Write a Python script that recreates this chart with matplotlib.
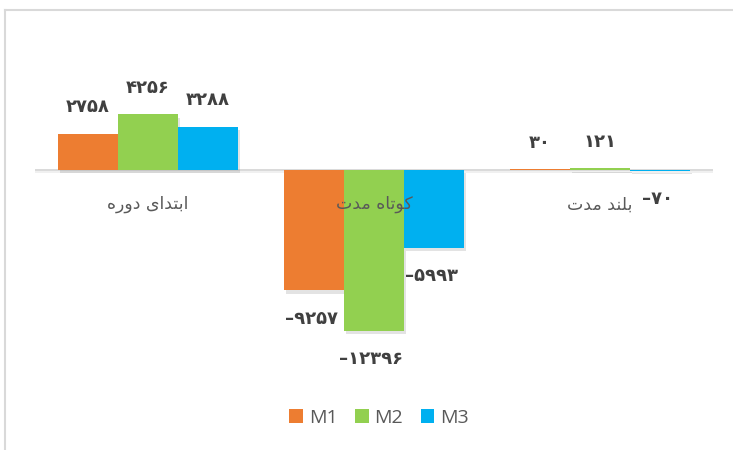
import numpy as np
import matplotlib.pyplot as plt
from matplotlib.patches import Patch
import matplotlib.patheffects as pe
from matplotlib.lines import Line2D

# data
categories = ['ابتدای دوره', 'کوتاه مدت', 'بلند مدت']
series = ['M1', 'M2', 'M3']
m1 = [2758, -9257, 30]
m2 = [4256, -12396, 121]
m3 = [3288, -5993, -70]
colors = ['#ED7D31', '#92D050', '#00B0F0']

# contextual forms: isolated, final, initial, medial
FORMS = {
    'ا': (0xFE8D, 0xFE8E, 0xFE8D, 0xFE8E),
    'ب': (0xFE8F, 0xFE90, 0xFE91, 0xFE92),
    'ت': (0xFE95, 0xFE96, 0xFE97, 0xFE98),
    'د': (0xFEA9, 0xFEAA, 0xFEA9, 0xFEAA),
    'ر': (0xFEAD, 0xFEAE, 0xFEAD, 0xFEAE),
    'و': (0xFEED, 0xFEEE, 0xFEED, 0xFEEE),
    'ه': (0xFEE9, 0xFEEA, 0xFEEB, 0xFEEC),
    'م': (0xFEE1, 0xFEE2, 0xFEE3, 0xFEE4),
    'ل': (0xFEDD, 0xFEDE, 0xFEDF, 0xFEE0),
    'ن': (0xFEE5, 0xFEE6, 0xFEE7, 0xFEE8),
    'ک': (0xFB8E, 0xFB8F, 0xFB90, 0xFB91),
    'ی': (0xFBFC, 0xFBFD, 0xFBFE, 0xFBFF),
}
DUAL = set('بتهملنکی')


def shape(s):
    # matplotlib does no arabic shaping or bidi, so do it by hand
    out = []
    for i, c in enumerate(s):
        if c not in FORMS:
            out.append(c)
            continue
        prev = s[i - 1] if i > 0 else None
        nxt = s[i + 1] if i + 1 < len(s) else None
        jp = prev in DUAL
        jn = c in DUAL and nxt in FORMS
        if jp and jn:
            k = 3
        elif jp:
            k = 1
        elif jn:
            k = 2
        else:
            k = 0
        out.append(chr(FORMS[c][k]))
    return ''.join(reversed(out))


FA_DIGITS = str.maketrans('0123456789', '۰۱۲۳۴۵۶۷۸۹')


def fa_num(v):
    s = str(abs(v)).translate(FA_DIGITS)
    return '–' + s if v < 0 else s


fig = plt.figure(figsize=(7.33, 4.5), dpi=100)
fig.patch.set_facecolor('white')

# chart frame (only top and left edges show)
fig.add_artist(Line2D([5 / 733, 5 / 733], [0, 1 - 10 / 450], color='#D9D9D9', lw=1.5))
fig.add_artist(Line2D([5 / 733, 1], [1 - 10 / 450, 1 - 10 / 450], color='#D9D9D9', lw=1.5))

ax = fig.add_axes([35 / 733, 0.2184, 678 / 733, 0.6356])
ax.set_xlim(-0.5, 2.5)
ax.set_ylim(-14000, 8000)
ax.axis('off')

x = np.arange(len(categories))
w = 0.265
shadow = [pe.SimplePatchShadow(offset=(1.5, -2.5), shadow_rgbFace='#808080', alpha=0.22), pe.Normal()]

ax.axhline(0, color='#D9D9D9', lw=1.4, zorder=1,
           path_effects=[pe.SimpleLineShadow(offset=(0, -2), alpha=0.06), pe.Normal()])

for j, (vals, col) in enumerate(zip([m1, m2, m3], colors)):
    xs = x + (j - 1) * w
    bars = ax.bar(xs, vals, width=w, color=col, zorder=2, label=series[j])
    for b in bars:
        b.set_path_effects(shadow)
    for xi, v in zip(xs, vals):
        if v >= 0:
            ax.annotate(fa_num(v), (xi, v), xytext=(0, 15.5), textcoords='offset points',
                        ha='center', va='baseline', fontsize=13, fontweight='bold',
                        color='#404040', family='DejaVu Sans', zorder=4)
        else:
            ax.annotate(fa_num(v), (xi, v), xytext=(-2, -14), textcoords='offset points',
                        ha='center', va='top', fontsize=13, fontweight='bold',
                        color='#404040', family='DejaVu Sans', zorder=4)

for xi, c in zip(x, categories):
    ax.annotate(shape(c), (xi, 0), xytext=(0, -25), textcoords='offset points',
                ha='center', va='center', fontsize=12.5, color='#595959',
                family='DejaVu Sans', zorder=5)

handles = [Patch(facecolor=c, edgecolor='none') for c in colors]
fig.legend(handles, series, loc='center', bbox_to_anchor=(379 / 733, 1 - 418 / 450),
           ncol=3, frameon=False, handlelength=0.7, handleheight=0.7,
           handletextpad=0.3, columnspacing=0.9, labelcolor='#595959',
           prop={'family': 'Open Sans', 'size': 14})

fig.savefig('out.png', dpi=100, facecolor='white')
